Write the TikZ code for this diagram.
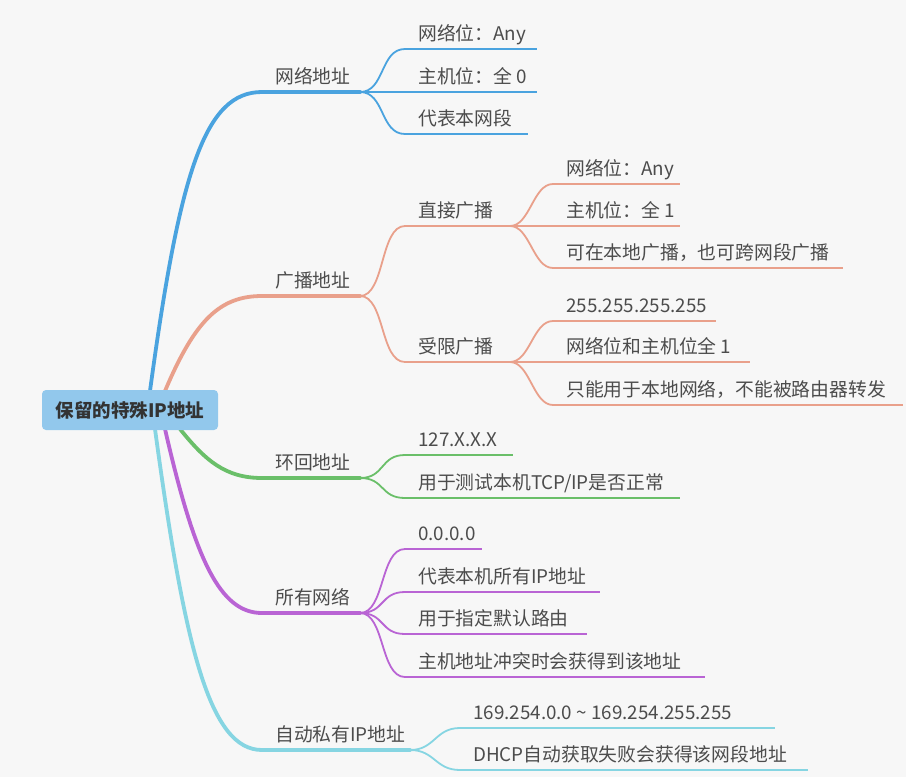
\documentclass[tikz,border=0pt]{standalone}
\usepackage{fontspec}
\setmainfont{Noto Sans CJK SC}
\usetikzlibrary{calc}
\newcommand\mmitem[7]{% name, x0, x1, ul y, color, style, text
 \node[lbl] (#1) at (#2+13,#4-9) {#7};
 \coordinate (#1s) at (#2,#4); \coordinate (#1e) at (#3,#4);
 \draw[#6,draw=#5] (#1s)--(#1e);}
\newcommand\mmlink[4]{\draw[l2,draw=#3] (#1e) .. controls ($(#1e)+(#4,0)$) and ($(#2s)+(-#4,0)$) .. (#2s);}
\begin{document}
\begin{tikzpicture}[x=1pt,y=-1pt,
 lbl/.style={anchor=base west,inner sep=0pt,text=black!70,font=\fontsize{18.8}{20}\selectfont},
 l1/.style={line width=3.8pt,line cap=round},
 l2/.style={line width=1.8pt},
 ]
\definecolor{cb}{HTML}{4AA3DF}\definecolor{cs}{HTML}{E9A08B}\definecolor{cg}{HTML}{6ABF69}
\definecolor{cp}{HTML}{B964D4}\definecolor{cc}{HTML}{86D5E2}
\fill[white!97!black] (0,0) rectangle (906,777);
\useasboundingbox (0,0) rectangle (906,777);
% level 1
\mmitem{a}{262}{360}{92}{cb}{l1}{网络地址}
\mmitem{b}{262}{360}{296}{cs}{l1}{广播地址}
\mmitem{c}{262}{360}{478}{cg}{l1}{环回地址}
\mmitem{d}{262}{360}{613}{cp}{l1}{所有网络}
\mmitem{e}{262}{410}{750}{cc}{l1}{自动私有IP地址}
\draw[l1,cb] (150,391) .. controls (180,170) and (205,92) .. (as);
\draw[l1,cs] (165,391) .. controls (195,320) and (220,296) .. (bs);
\draw[l1,cg] (180,429) .. controls (205,460) and (225,478) .. (cs);
\draw[l1,cp] (165,429) .. controls (195,560) and (220,613) .. (ds);
\draw[l1,cc] (155,429) .. controls (185,650) and (210,750) .. (es);
\node[fill=cb!60!white,rounded corners=4pt,minimum width=176,minimum height=40,font=\fontsize{18.5}{20}\selectfont\bfseries,text=black!80] (root) at (130,410) {保留的特殊IP地址};
% 网络地址
\mmitem{a1}{405}{537}{49}{cb}{l2}{网络位：Any}
\mmitem{a2}{405}{537}{92}{cb}{l2}{主机位：全 0}
\mmitem{a3}{405}{528}{134}{cb}{l2}{代表本网段}
\mmlink{a}{a1}{cb}{25}\mmlink{a}{a2}{cb}{25}\mmlink{a}{a3}{cb}{25}
% 广播
\mmitem{b1}{405}{510}{226}{cs}{l2}{直接广播}
\mmitem{b2}{405}{510}{362}{cs}{l2}{受限广播}
\mmlink{b}{b1}{cs}{25}\mmlink{b}{b2}{cs}{25}
\mmitem{b11}{553}{680}{184}{cs}{l2}{网络位：Any}
\mmitem{b12}{553}{680}{226}{cs}{l2}{主机位：全 1}
\mmitem{b13}{553}{843}{268}{cs}{l2}{可在本地广播，也可跨网段广播}
\mmlink{b1}{b11}{cs}{20}\mmlink{b1}{b12}{cs}{20}\mmlink{b1}{b13}{cs}{20}
\mmitem{b21}{553}{716}{321}{cs}{l2}{255.255.255.255}
\mmitem{b22}{553}{750}{362}{cs}{l2}{网络位和主机位全 1}
\mmitem{b23}{553}{903}{405}{cs}{l2}{只能用于本地网络，不能被路由器转发}
\mmlink{b2}{b21}{cs}{20}\mmlink{b2}{b22}{cs}{20}\mmlink{b2}{b23}{cs}{20}
% 环回
\mmitem{c1}{405}{513}{455}{cg}{l2}{127.X.X.X}
\mmitem{c2}{405}{680}{498}{cg}{l2}{用于测试本机TCP/IP是否正常}
\mmlink{c}{c1}{cg}{25}\mmlink{c}{c2}{cg}{25}
% 所有网络
\mmitem{d1}{405}{482}{549}{cp}{l2}{0.0.0.0}
\mmitem{d2}{405}{600}{592}{cp}{l2}{代表本机所有IP地址}
\mmitem{d3}{405}{587}{634}{cp}{l2}{用于指定默认路由}
\mmitem{d4}{405}{705}{677}{cp}{l2}{主机地址冲突时会获得到该地址}
\mmlink{d}{d1}{cp}{25}\mmlink{d}{d2}{cp}{25}\mmlink{d}{d3}{cp}{25}\mmlink{d}{d4}{cp}{25}
% 自动私有
\mmitem{e1}{460}{775}{728}{cc}{l2}{169.254.0.0 \textasciitilde{} 169.254.255.255}
\mmitem{e2}{460}{808}{770}{cc}{l2}{DHCP自动获取失败会获得该网段地址}
\mmlink{e}{e1}{cc}{25}\mmlink{e}{e2}{cc}{25}
\end{tikzpicture}
\end{document}
